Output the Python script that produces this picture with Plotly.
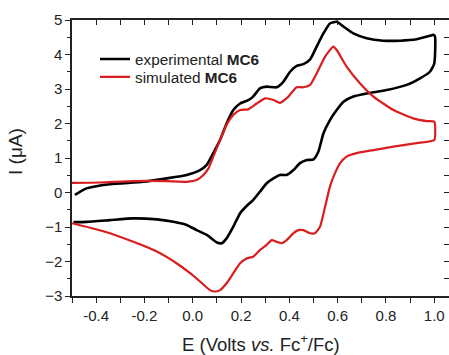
import plotly.graph_objects as go

# ---- data ----
exp_E = [-0.488, -0.44, -0.343, -0.205, -0.108, -0.025, 0.03, 0.058, 0.085, 0.113, 0.14, 0.168,
         0.196, 0.23, 0.25, 0.278, 0.306, 0.347, 0.375, 0.403, 0.43, 0.458, 0.486, 0.513, 0.541,
         0.568, 0.596, 0.624, 0.665, 0.72, 0.789, 0.858, 0.927, 0.982, 0.996, 1.003, 1.0,
         0.982, 0.941, 0.886, 0.803, 0.72, 0.665, 0.624, 0.596, 0.568, 0.541, 0.52, 0.5, 0.472,
         0.444, 0.417, 0.389, 0.361, 0.334, 0.306, 0.278, 0.25, 0.223, 0.196, 0.168, 0.14, 0.12,
         0.1, 0.058, 0.016, -0.025, -0.08, -0.149, -0.246, -0.343, -0.44, -0.494]
exp_I = [-0.07, 0.12, 0.24, 0.31, 0.41, 0.51, 0.65, 0.80, 1.14, 1.52, 2.0, 2.39,
         2.58, 2.68, 2.78, 3.02, 3.07, 3.05, 3.21, 3.50, 3.67, 3.72, 3.86, 4.23, 4.61,
         4.90, 4.95, 4.81, 4.61, 4.47, 4.40, 4.40, 4.44, 4.54, 4.57, 4.52, 3.74,
         3.50, 3.31, 3.12, 2.97, 2.87, 2.78, 2.63, 2.39, 2.10, 1.71, 1.18, 0.96, 0.94,
         0.85, 0.65, 0.51, 0.51, 0.41, 0.27, 0.02, -0.22, -0.39, -0.60, -0.99, -1.33, -1.47,
         -1.45, -1.23, -1.09, -0.94, -0.85, -0.78, -0.75, -0.80, -0.85, -0.86]

sim_E = [-0.5, -0.384, -0.246, -0.108, -0.025, 0.016, 0.044, 0.065, 0.085, 0.113, 0.14, 0.168,
         0.196, 0.23, 0.265, 0.3, 0.334, 0.361, 0.396, 0.43, 0.458, 0.486, 0.513, 0.548,
         0.582, 0.596, 0.637, 0.693, 0.748, 0.831, 0.913, 0.969, 1.0, 1.0,
         0.927, 0.831, 0.748, 0.679, 0.637, 0.61, 0.589, 0.568, 0.548, 0.527, 0.506, 0.486,
         0.458, 0.437, 0.417, 0.389, 0.368, 0.347, 0.327, 0.306, 0.278, 0.25, 0.223, 0.196,
         0.168, 0.14, 0.113, 0.092, 0.071, 0.03, -0.011, -0.067, -0.149, -0.246, -0.343,
         -0.425, -0.5]
sim_I = [0.28, 0.29, 0.33, 0.33, 0.31, 0.36, 0.51, 0.70, 1.04, 1.52, 1.96, 2.25,
         2.39, 2.41, 2.58, 2.73, 2.68, 2.60, 2.78, 3.05, 3.05, 3.12, 3.45, 3.94,
         4.23, 4.13, 3.65, 3.16, 2.78, 2.39, 2.15, 2.07, 2.05, 1.52,
         1.43, 1.33, 1.23, 1.14, 1.04, 0.85, 0.56, 0.17, -0.41, -0.99, -1.18, -1.18,
         -1.09, -1.09, -1.18, -1.38, -1.47, -1.43, -1.38, -1.52, -1.67, -1.86, -1.91, -2.05,
         -2.34, -2.63, -2.83, -2.87, -2.83, -2.58, -2.34, -2.05, -1.71, -1.43, -1.18,
         -1.02, -0.89]

x_range = [-0.5, 1.061]
y_range = [-3, 5]
x_tick_vals = [-0.4, -0.2, 0.0, 0.2, 0.4, 0.6, 0.8, 1.0]
x_tick_text = ["-0.4", "-0.2", "0.0", "0.2", "0.4", "0.6", "0.8", "1.0"]
y_tick_vals = [-3, -2, -1, 0, 1, 2, 3, 4, 5]

FONT = "Liberation Sans, Arial, Helvetica, sans-serif"
AX = "#222222"

fig = go.Figure()
fig.add_trace(go.Scatter(x=exp_E, y=exp_I, mode="lines", name="experimental <b>MC6</b>",
                         legend="legend",
                         line=dict(color="#000000", width=2.6, shape="spline", smoothing=0.5)))
fig.add_trace(go.Scatter(x=sim_E, y=sim_I, mode="lines", name="simulated <b>MC6</b>",
                         legend="legend2",
                         line=dict(color="#d81e1e", width=2.2, shape="spline", smoothing=0.5)))
# empty trace to anchor the mirrored (inside-tick) axes
fig.add_trace(go.Scatter(x=[None], y=[None], xaxis="x2", yaxis="y2", showlegend=False,
                         hoverinfo="skip"))

leg_common = dict(xanchor="left", yanchor="middle", bgcolor="rgba(0,0,0,0)",
                  font=dict(size=15.3, color=AX, family=FONT), itemwidth=30)

fig.update_layout(
    width=449, height=355,
    margin=dict(l=72, r=0, t=20, b=59),
    paper_bgcolor="white", plot_bgcolor="white",
    font=dict(family=FONT, color=AX, size=15),
    showlegend=True,
    legend=dict(x=0.061, y=0.8587, **leg_common),
    legend2=dict(x=0.061, y=0.7935, **leg_common),
    xaxis=dict(range=x_range, showgrid=False, zeroline=False, showline=True, linecolor=AX,
               linewidth=1.5, ticks="outside", ticklen=5, tickwidth=1.3, tickcolor=AX,
               tickvals=x_tick_vals, ticktext=x_tick_text, tickfont=dict(size=15),
               minor=dict(dtick=0.1, tick0=-0.5, ticks="outside", ticklen=5, tickwidth=1.3,
                          tickcolor=AX, showgrid=False),
               automargin=False, fixedrange=True),
    yaxis=dict(range=y_range, showgrid=False, zeroline=False, showline=True, linecolor=AX,
               linewidth=1.5, ticks="outside", ticklen=5, tickwidth=1.3, tickcolor=AX,
               tickvals=y_tick_vals, tickfont=dict(size=15),
               minor=dict(dtick=0.5, tick0=0, ticks="outside", ticklen=3, tickwidth=1.3,
                          tickcolor=AX, showgrid=False),
               automargin=False, fixedrange=True),
    xaxis2=dict(range=x_range, overlaying="x", side="top", anchor="y2", showgrid=False,
                zeroline=False, showline=True, linecolor=AX, linewidth=1.5, ticks="inside",
                ticklen=5, tickwidth=1.3, tickcolor=AX, dtick=0.1, tick0=-0.5,
                showticklabels=False, automargin=False, fixedrange=True),
    yaxis2=dict(range=y_range, overlaying="y", side="right", anchor="x2", showgrid=False,
                zeroline=False, showline=True, linecolor=AX, linewidth=1.5, ticks="inside",
                ticklen=5, tickwidth=1.3, tickcolor=AX, dtick=0.5, tick0=0,
                showticklabels=False, automargin=False, fixedrange=True),
    annotations=[
        dict(text="E (Volts <i>vs.</i> Fc<sup>+</sup>/Fc)", xref="paper", yref="paper",
             x=0.5, y=-0.172, xanchor="center", yanchor="middle", showarrow=False,
             font=dict(size=18.5, color=AX, family=FONT)),
        dict(text="I (\u03bcA)", xref="paper", yref="paper", x=-0.1485, y=0.522,
             xanchor="center", yanchor="middle", textangle=-90, showarrow=False,
             font=dict(size=19, color=AX, family=FONT)),
    ],
)

fig.write_html("out.html", config={"displayModeBar": False},
               post_script="document.body.style.margin='0';document.body.style.overflow='hidden';")
